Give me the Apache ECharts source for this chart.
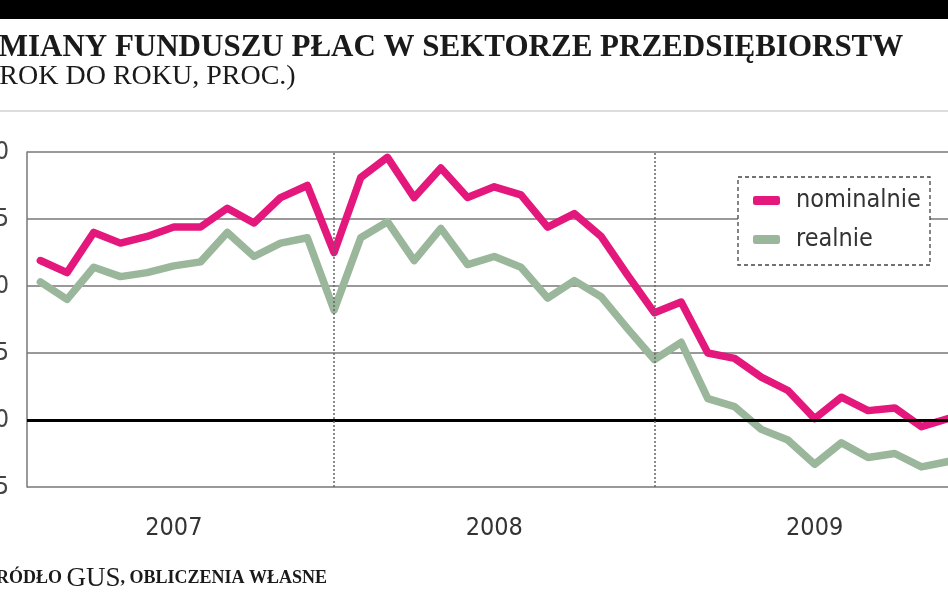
<!DOCTYPE html>
<html><head><meta charset="utf-8">
<script src="https://cdn.jsdelivr.net/npm/echarts@6/dist/echarts.min.js"></script>
<style>html,body{margin:0;padding:0;background:#fff}#c{width:948px;height:593px}</style>
</head><body><div id="c"></div>
<script>
const months = ['2007-01','2007-02','2007-03','2007-04','2007-05','2007-06','2007-07','2007-08','2007-09','2007-10','2007-11','2007-12',
  '2008-01','2008-02','2008-03','2008-04','2008-05','2008-06','2008-07','2008-08','2008-09','2008-10','2008-11','2008-12',
  '2009-01','2009-02','2009-03','2009-04','2009-05','2009-06','2009-07','2009-08','2009-09','2009-10','2009-11'];
const nominalnie = [11.9,11.0,14.0,13.2,13.7,14.4,14.4,15.8,14.7,16.6,17.5,12.5,
  18.1,19.6,16.6,18.8,16.6,17.4,16.8,14.4,15.4,13.7,10.8,8.0,
  8.8,5.0,4.6,3.2,2.2,0.1,1.7,0.7,0.9,-0.5,0.1];
const realnie = [10.3,9.0,11.4,10.7,11.0,11.5,11.8,14.0,12.2,13.2,13.6,8.2,
  13.6,14.8,11.9,14.3,11.6,12.2,11.4,9.1,10.4,9.2,6.8,4.5,
  5.8,1.6,1.0,-0.7,-1.5,-3.3,-1.7,-2.8,-2.5,-3.5,-3.1];
const yearLabelMonths = ['2007-06','2008-06','2009-06'];
const yearDividers = ['2007-12','2008-12'];
const yMin = -5, yMax = 20, yStep = 5;

const seriesNames = ['nominalnie','realnie'];
const colors = ['#e3177c','#9ab69b'];
const narrow = "'DejaVu Sans Condensed','DejaVu Sans',sans-serif";
const serif = "'Liberation Serif','DejaVu Serif',serif";

const chart = echarts.init(document.getElementById('c'), null, {renderer:'canvas'});
chart.setOption({
  animation:false,
  backgroundColor:'#ffffff',
  graphic:[
    {type:'rect', shape:{x:0,y:0,width:948,height:19}, style:{fill:'#000'}, z:10},
    {type:'line', shape:{x1:0,y1:111,x2:948,y2:111}, style:{stroke:'#bbbbbb',lineWidth:1}},
    {type:'text', left:-22, top:32, style:{text:'ZMIANY FUNDUSZU PŁAC W SEKTORZE PRZEDSIĘBIORSTW', font:"bold 31px "+serif, fill:'#1a1a1a'}},
    {type:'text', left:-10, top:63, style:{text:'(ROK DO ROKU, PROC.)', font:"28px "+serif, fill:'#1a1a1a'}},
    {type:'text', left:-16, top:565, style:{
      text:'{s|ŹRÓDŁO }{b|GUS}{s|, OBLICZENIA WŁASNE}',
      rich:{s:{font:"bold 18px "+serif, fill:'#1a1a1a'}, b:{font:"27px "+serif, fill:'#1a1a1a'}}}},
    {type:'rect', shape:{x:738,y:177,width:192,height:88}, style:{fill:'#fff', stroke:'#444', lineWidth:1.3, lineDash:[4,3]}, z:3}
  ],
  legend:{
    orient:'vertical', left:738, top:177, z:5,
    padding:[11,17,11,15], itemGap:14, itemWidth:27, itemHeight:9, icon:'roundRect',
    textStyle:{fontFamily:narrow, fontSize:25, color:'#333', padding:[0,0,0,11]},
    data:seriesNames
  },
  grid:{left:27, top:152, bottom:106, right:-13.5, outerBoundsMode:'none', containLabel:false},
  xAxis:{
    type:'category', data:months, boundaryGap:true,
    axisLine:{show:false}, axisTick:{show:false}, splitLine:{show:false},
    axisLabel:{
      interval:(i,v)=>yearLabelMonths.indexOf(v)>=0,
      formatter:v=>v.slice(0,4),
      margin:29, fontFamily:narrow, fontSize:25, color:'#333'
    }
  },
  yAxis:{
    type:'value', min:yMin, max:yMax, interval:yStep,
    axisLine:{show:true, lineStyle:{color:'#777', width:1.5}},
    axisTick:{show:false},
    axisLabel:{margin:18, fontFamily:narrow, fontSize:25, color:'#444'},
    splitLine:{show:true, lineStyle:{color:'#777', width:1.5}}
  },
  series:[
    {type:'line', name:'__marks', data:[], z:1, silent:true,
     markLine:{silent:true, symbol:'none', label:{show:false},
       data:[
         {yAxis:0, lineStyle:{color:'#000', width:3, type:'solid'}},
         ...yearDividers.map(m=>({xAxis:m, lineStyle:{color:'#666', width:1.5, type:[2,2]}}))
       ]}},
    {type:'line', name:seriesNames[0], data:nominalnie, symbol:'none', z:3,
     lineStyle:{color:colors[0], width:7.5, cap:'round', join:'round'}, itemStyle:{color:colors[0]}},
    {type:'line', name:seriesNames[1], data:realnie, symbol:'none', z:2,
     lineStyle:{color:colors[1], width:7.5, cap:'round', join:'round'}, itemStyle:{color:colors[1]}}
  ]
});
</script></body></html>
